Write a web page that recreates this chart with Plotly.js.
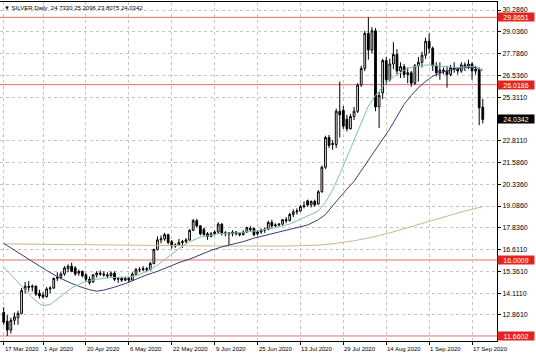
<!DOCTYPE html>
<html>
<head>
<meta charset="utf-8">
<script src="https://cdn.plot.ly/plotly-3.0.1.min.js"></script>
<style>
html,body{margin:0;padding:0;background:#fff;}
#chart{width:536px;height:357px;}
</style>
</head>
<body>
<div id="chart"></div>
<script>
// ---- data ----
const dates = [
"2020-03-17","2020-03-18","2020-03-19","2020-03-20","2020-03-23","2020-03-24","2020-03-25","2020-03-26","2020-03-27","2020-03-30","2020-03-31",
"2020-04-01","2020-04-02","2020-04-03","2020-04-06","2020-04-07","2020-04-08","2020-04-09","2020-04-13","2020-04-14","2020-04-15","2020-04-16","2020-04-17","2020-04-20","2020-04-21","2020-04-22","2020-04-23","2020-04-24","2020-04-27","2020-04-28","2020-04-29","2020-04-30",
"2020-05-01","2020-05-04","2020-05-05","2020-05-06","2020-05-07","2020-05-08","2020-05-11","2020-05-12","2020-05-13","2020-05-14","2020-05-15","2020-05-18","2020-05-19","2020-05-20","2020-05-21","2020-05-22","2020-05-25","2020-05-26","2020-05-27","2020-05-28","2020-05-29",
"2020-06-01","2020-06-02","2020-06-03","2020-06-04","2020-06-05","2020-06-08","2020-06-09","2020-06-10","2020-06-11","2020-06-12","2020-06-15","2020-06-16","2020-06-17","2020-06-18","2020-06-19","2020-06-22","2020-06-23","2020-06-24","2020-06-25","2020-06-26","2020-06-29","2020-06-30",
"2020-07-01","2020-07-02","2020-07-03","2020-07-06","2020-07-07","2020-07-08","2020-07-09","2020-07-10","2020-07-13","2020-07-14","2020-07-15","2020-07-16","2020-07-17","2020-07-20","2020-07-21","2020-07-22","2020-07-23","2020-07-24","2020-07-27","2020-07-28","2020-07-29","2020-07-30","2020-07-31",
"2020-08-03","2020-08-04","2020-08-05","2020-08-06","2020-08-07","2020-08-10","2020-08-11","2020-08-12","2020-08-13","2020-08-14","2020-08-17","2020-08-18","2020-08-19","2020-08-20","2020-08-21","2020-08-24","2020-08-25","2020-08-26","2020-08-27","2020-08-28","2020-08-31",
"2020-09-01","2020-09-02","2020-09-03","2020-09-04","2020-09-07","2020-09-08","2020-09-09","2020-09-10","2020-09-11","2020-09-14","2020-09-15","2020-09-16","2020-09-17","2020-09-18","2020-09-21","2020-09-22"
];
const openP = [
13.00,12.50,12.00,12.55,12.70,12.95,14.30,14.50,14.45,14.50,14.10,
14.00,13.90,14.35,14.40,14.95,15.00,15.20,15.50,15.65,15.55,15.25,15.35,15.15,14.90,14.75,15.15,15.25,15.20,15.15,15.10,15.25,
14.90,14.95,14.85,14.95,14.85,15.20,15.45,15.45,15.50,15.45,15.80,16.60,17.15,17.20,17.45,17.05,16.80,16.85,17.00,17.05,17.15,
17.70,18.25,17.95,17.75,17.50,17.35,17.50,17.60,18.05,17.50,17.55,17.50,17.60,17.50,17.45,17.60,17.80,17.80,17.50,17.60,17.70,17.75,
18.15,17.95,18.00,18.05,18.30,18.25,18.60,18.75,18.80,19.05,19.38,19.15,19.35,19.20,19.90,21.30,23.00,22.60,22.60,24.50,24.55,24.05,23.50,
24.20,24.50,26.00,26.95,28.95,28.00,29.10,24.75,25.55,27.40,26.30,27.20,27.75,26.80,27.05,26.60,26.70,26.10,27.10,27.30,27.70,
28.50,28.10,27.10,26.70,26.85,26.80,26.60,27.00,26.90,26.80,27.15,27.05,27.20,26.80,26.90,24.733
];
const highP = [
13.30,12.85,12.70,13.00,13.10,14.40,14.75,14.80,14.60,14.55,14.30,
14.15,14.45,14.50,15.00,15.30,15.30,15.65,15.75,15.85,15.65,15.45,15.40,15.25,15.05,15.20,15.35,15.40,15.35,15.30,15.35,15.35,
15.00,15.05,15.05,15.05,15.30,15.55,15.60,15.65,15.60,15.90,16.65,17.35,17.40,17.55,17.50,17.15,16.95,17.20,17.15,17.25,17.75,
18.35,18.35,18.00,17.85,17.60,17.60,17.70,18.15,18.10,17.65,17.60,17.70,17.65,17.60,17.70,17.90,17.95,17.85,17.70,17.80,17.85,18.25,
18.30,18.10,18.10,18.35,18.45,18.70,18.90,18.95,19.15,19.35,19.45,19.40,19.45,20.00,21.40,23.10,23.15,22.85,24.65,26.20,24.80,24.30,24.35,
24.75,26.10,27.10,29.10,29.87,29.30,29.25,25.60,27.50,27.60,27.50,28.45,28.05,27.30,27.20,27.00,26.80,27.20,27.60,27.90,28.70,
28.95,28.20,27.30,27.30,27.00,27.10,27.15,27.30,27.00,27.30,27.30,27.45,27.30,27.10,27.00,25.2096
];
const lowP = [
12.30,11.66,11.80,12.30,12.30,12.90,14.10,14.20,14.20,13.95,13.80,
13.80,13.85,14.10,14.35,14.80,14.90,15.10,15.30,15.30,15.10,15.10,15.00,14.75,14.60,14.70,15.00,15.10,15.05,14.95,15.05,14.80,
14.70,14.75,14.80,14.70,14.80,15.10,15.30,15.35,15.30,15.40,15.75,16.55,16.95,17.10,16.90,16.65,16.70,16.80,16.70,16.95,17.10,
17.65,17.85,17.40,17.40,17.15,17.30,17.40,17.50,17.40,17.35,16.85,17.35,17.40,17.35,17.40,17.55,17.60,17.35,17.40,17.50,17.55,17.70,
17.85,17.90,17.90,17.95,18.10,18.20,18.45,18.60,18.75,18.95,19.05,19.00,19.05,19.15,19.85,21.20,22.40,22.30,22.40,23.00,23.50,23.35,23.45,
24.00,24.40,25.90,26.80,27.45,27.80,24.50,23.55,25.20,26.00,26.20,26.90,26.60,26.40,26.40,26.10,25.90,26.00,26.20,27.00,27.50,
27.80,26.80,26.50,26.30,26.60,25.85,26.50,26.70,26.60,26.70,26.80,26.90,26.30,26.60,23.70,23.8075
];
const closeP = [
12.45,12.00,12.55,12.75,12.95,14.25,14.50,14.45,14.50,14.05,13.95,
13.90,14.35,14.40,14.95,15.00,15.20,15.55,15.65,15.35,15.20,15.35,15.10,14.90,14.70,15.15,15.25,15.20,15.15,15.10,15.25,14.90,
14.95,14.85,14.95,14.85,15.20,15.45,15.45,15.50,15.45,15.80,16.60,17.15,17.20,17.45,17.00,16.80,16.85,17.00,17.05,17.15,17.70,
18.25,17.95,17.50,17.45,17.35,17.50,17.60,18.05,17.50,17.55,17.50,17.60,17.50,17.45,17.60,17.85,17.75,17.45,17.60,17.70,17.75,18.15,
17.95,18.00,18.05,18.30,18.25,18.60,18.75,18.80,19.05,19.10,19.15,19.35,19.15,19.90,21.30,23.00,22.55,22.65,24.50,24.30,23.65,23.50,24.20,
24.50,26.00,26.95,28.95,28.00,29.10,24.75,25.40,27.40,26.30,27.20,27.75,26.80,27.05,26.60,26.70,26.10,27.10,27.30,27.70,28.50,
28.10,27.10,26.70,26.85,26.80,26.60,27.00,26.90,26.80,27.15,27.05,27.20,26.80,26.90,24.70,24.0342
];

// moving averages
const fastMaDates = ["2020-03-17","2020-03-19","2020-03-23","2020-03-25","2020-03-27","2020-03-31","2020-04-01","2020-04-03","2020-04-07","2020-04-09","2020-04-14","2020-04-17","2020-04-23","2020-04-29","2020-05-05","2020-05-08","2020-05-13","2020-05-18","2020-05-21","2020-05-26","2020-05-29","2020-06-03","2020-06-10","2020-06-17","2020-06-24","2020-07-01","2020-07-08","2020-07-15","2020-07-20","2020-07-22","2020-07-24","2020-07-28","2020-07-30","2020-08-03","2020-08-05","2020-08-07","2020-08-11","2020-08-13","2020-08-17","2020-08-19","2020-08-24","2020-08-27","2020-09-01","2020-09-04","2020-09-10","2020-09-16","2020-09-18","2020-09-22"];
const fastMaValues = [15.6,15.15,14.7,14.25,13.85,13.5,13.4,13.45,13.75,14.1,14.4,14.7,14.9,15.0,15.0,15.1,15.35,15.7,16.2,16.65,17.05,17.3,17.5,17.55,17.65,17.8,18.05,18.5,18.8,19.3,20.0,20.9,21.9,22.9,23.9,24.8,25.4,25.9,26.3,26.6,26.95,27.1,27.15,27.1,27.0,27.05,27.05,26.8];

const slowMaDates = ["2020-03-17","2020-03-20","2020-03-25","2020-03-30","2020-04-02","2020-04-07","2020-04-13","2020-04-16","2020-04-21","2020-04-23","2020-04-27","2020-04-30","2020-05-05","2020-05-08","2020-05-13","2020-05-18","2020-05-21","2020-05-26","2020-05-29","2020-06-03","2020-06-08","2020-06-11","2020-06-16","2020-06-19","2020-06-24","2020-06-29","2020-07-02","2020-07-07","2020-07-10","2020-07-15","2020-07-20","2020-07-22","2020-07-24","2020-07-28","2020-07-30","2020-08-03","2020-08-05","2020-08-07","2020-08-11","2020-08-13","2020-08-17","2020-08-19","2020-08-21","2020-08-25","2020-08-27","2020-08-31","2020-09-02","2020-09-07","2020-09-10","2020-09-15","2020-09-18","2020-09-22"];
const slowMaValues = [16.95,16.55,16.15,15.75,15.4,15.05,14.75,14.5,14.3,14.22,14.28,14.45,14.65,14.9,15.15,15.35,15.6,15.85,16.05,16.3,16.55,16.75,16.9,17.05,17.25,17.4,17.55,17.7,17.85,18.0,18.3,18.6,19.1,19.6,20.05,20.5,21.1,21.7,22.3,22.9,23.5,24.2,24.9,25.4,25.85,26.2,26.5,26.75,26.9,27.0,27.0,26.85];

const longMaDates = ["2020-03-17","2020-04-24","2020-06-10","2020-07-08","2020-07-20","2020-07-27","2020-08-03","2020-08-10","2020-08-17","2020-08-24","2020-08-31","2020-09-08","2020-09-15","2020-09-22"];
const longMaValues = [16.92,16.85,16.8,16.8,16.85,16.95,17.1,17.3,17.55,17.85,18.15,18.5,18.8,19.05];

const levelValues = [29.8651, 26.0186, 16.0009, 11.6602];
const levelLabels = ["29.8651", "26.0186", "16.0009", "11.6602"];
const lastPrice = 24.0342;
const lastPriceLabel = "24.0342";

const priceTicks = [30.286, 29.036, 27.786, 26.536, 25.311, 22.811, 21.586, 20.336, 19.086, 17.836, 16.611, 15.361, 14.111, 12.861];
const priceTickText = ["30.2860","29.0360","27.7860","26.5360","25.3110","22.8110","21.5860","20.3360","19.0860","17.8360","16.6110","15.3610","14.1110","12.8610"];

const dateTicks = ["2020-03-17","2020-04-01","2020-04-20","2020-05-06","2020-05-22","2020-06-09","2020-06-25","2020-07-13","2020-07-29","2020-08-14","2020-09-01","2020-09-17"];
const dateTickText = ["17 Mar 2020","1 Apr 2020","20 Apr 2020","6 May 2020","22 May 2020","9 Jun 2020","25 Jun 2020","13 Jul 2020","29 Jul 2020","14 Aug 2020","1 Sep 2020","17 Sep 2020"];

const headerText = "\u25BC SILVER,Daily  24.7330 25.2096 23.8075 24.0342";

// ---- chart ----
const FONT = "Liberation Sans, Arial, sans-serif";

const traces = [
  {type:'scatter', mode:'lines', x:longMaDates, y:longMaValues, line:{color:'#d2b48c', width:1}, hoverinfo:'skip', showlegend:false},
  {type:'scatter', mode:'lines', x:slowMaDates, y:slowMaValues, line:{color:'#3a3a7a', width:1}, hoverinfo:'skip', showlegend:false},
  {type:'scatter', mode:'lines', x:fastMaDates, y:fastMaValues, line:{color:'#7cc4a6', width:1}, hoverinfo:'skip', showlegend:false},
  {type:'candlestick', x:dates, open:openP, high:highP, low:lowP, close:closeP,
   increasing:{line:{color:'#000', width:1}, fillcolor:'#ffffff'},
   decreasing:{line:{color:'#000', width:1}, fillcolor:'#000000'},
   whiskerwidth:0, hoverinfo:'skip', showlegend:false}
];

const shapes = levelValues.map(v => ({type:'line', xref:'paper', x0:0, x1:1, yref:'y', y0:v, y1:v,
  line:{color:'#e07070', width:1}, layer:'below'}));

const annotations = [];
levelValues.forEach((v, i) => annotations.push({
  xref:'paper', x:1, xanchor:'left', yref:'y', y:v, yanchor:'middle', showarrow:false,
  text:levelLabels[i], bgcolor:'#e3231f', font:{family:FONT, size:7, color:'#fff'},
  width:36, height:8, align:'center', borderpad:0
}));
annotations.push({
  xref:'paper', x:1, xanchor:'left', yref:'y', y:lastPrice, yanchor:'middle', showarrow:false,
  text:lastPriceLabel, bgcolor:'#000', font:{family:FONT, size:7, color:'#fff'},
  width:36, height:8, align:'center', borderpad:0
});
dateTicks.forEach((d, i) => annotations.push({
  xref:'x', x:d, xanchor:'left', yref:'paper', y:0, yanchor:'top', yshift:-3, xshift:-1,
  showarrow:false, text:dateTickText[i], font:{family:FONT, size:6, color:'#000'}
}));
annotations.push({
  xref:'paper', x:0, xanchor:'left', xshift:2, yref:'paper', y:1, yanchor:'top', yshift:-1,
  showarrow:false, text:headerText, font:{family:FONT, size:6, color:'#000'}
});

const layout = {
  width:536, height:357,
  margin:{l:0, r:39, t:2, b:16, pad:0},
  paper_bgcolor:'#fff', plot_bgcolor:'#fff',
  showlegend:false,
  xaxis:{
    type:'category', categoryorder:'array', categoryarray:dates,
    range:[-1.035, 137.98], fixedrange:true,
    rangeslider:{visible:false},
    tickmode:'array', tickvals:dateTicks, showticklabels:false,
    ticks:'outside', ticklen:3, tickcolor:'#000', tickwidth:1,
    showgrid:true, gridcolor:'#c4c4c4', griddash:'dot', gridwidth:1,
    showline:true, linecolor:'#000', linewidth:1, mirror:true, zeroline:false
  },
  yaxis:{
    side:'right', range:[11.372, 30.743], fixedrange:true,
    tickmode:'array', tickvals:priceTicks, ticktext:priceTickText,
    ticks:'outside', ticklen:3, tickcolor:'#000', tickwidth:1,
    tickfont:{family:FONT, size:7, color:'#000'},
    showgrid:true, gridcolor:'#c4c4c4', griddash:'dot', gridwidth:1,
    showline:true, linecolor:'#000', linewidth:1, mirror:true, zeroline:false
  },
  shapes:shapes,
  annotations:annotations
};

Plotly.newPlot('chart', traces, layout, {displayModeBar:false, staticPlot:true});
</script>
</body>
</html>
